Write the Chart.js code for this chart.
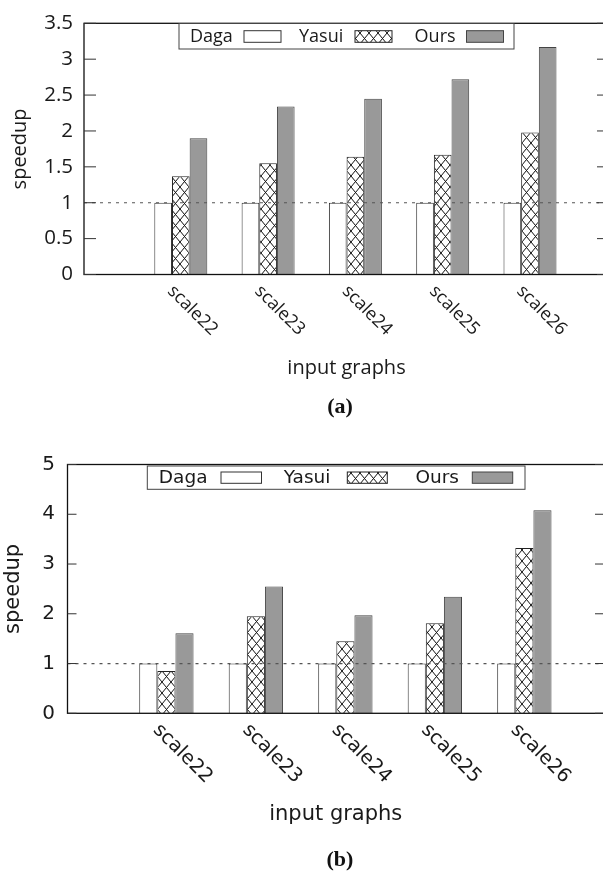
<!DOCTYPE html>
<html>
<head>
<meta charset="utf-8">
<script src="https://cdn.jsdelivr.net/npm/chart.js@4.4.1/dist/chart.umd.min.js"></script>
<style>
  html, body { margin: 0; padding: 0; background: #fff; overflow: hidden; }
  body { width: 603px; height: 874px; position: relative; }
  canvas { position: absolute; left: 0; }
  #chartA { top: 0; }
  #chartB { top: 440px; }
  .cap { position: absolute; left: 300px; width: 80px; text-align: center; line-height: 24px;
         font: bold 22px "Liberation Serif", "Times New Roman", serif; color: #111; }
</style>
</head>
<body>
<canvas id="chartA" width="620" height="440"></canvas>
<canvas id="chartB" width="620" height="434"></canvas>
<div class="cap" style="top:393px">(a)</div>
<div class="cap" style="top:846px">(b)</div>
<script>
// data
const categories = ['scale22', 'scale23', 'scale24', 'scale25', 'scale26'];
const seriesNames = ['Daga', 'Yasui', 'Ours'];
const dagaA  = [1, 1, 1, 1, 1];
const yasuiA = [1.37, 1.55, 1.64, 1.67, 1.98];
const oursA  = [1.90, 2.34, 2.45, 2.72, 3.17];
const dagaB  = [1, 1, 1, 1, 1];
const yasuiB = [0.85, 1.95, 1.45, 1.81, 3.32];
const oursB  = [1.61, 2.55, 1.97, 2.34, 4.08];
const yTicksA = [0, 0.5, 1, 1.5, 2, 2.5, 3, 3.5];
const yTicksB = [0, 1, 2, 3, 4, 5];
const refLine = 1;

const textColor = '#1a1a1a';

// cross hatch like gnuplot's pattern
function hatch() {
  const t = document.createElement('canvas');
  t.width = 9; t.height = 11;
  const c = t.getContext('2d');
  c.fillStyle = '#fff';
  c.fillRect(0, 0, 9, 11);
  c.strokeStyle = '#111';
  c.lineWidth = 1;
  c.beginPath();
  c.moveTo(0, 0); c.lineTo(9, 11);
  c.moveTo(9, 0); c.lineTo(0, 11);
  c.stroke();
  return c.createPattern(t, 'repeat');
}
const hatchFill = hatch();

const fills = ['#ffffff', hatchFill, '#999999'];
const borders = ['#333333', '#222222', '#444444'];

function series(vals) {
  return vals.map((v, i) => ({ x: i, y: v }));
}

function fontStr(f) {
  return f.size + 'px "' + f.family + '"';
}

const gnuplotLook = {
  id: 'gnuplotLook',
  afterDatasetsDraw(chart, args, o) {
    const { ctx, chartArea: a, scales: { y } } = chart;
    ctx.save();
    // dotted line at speedup 1
    const y1 = y.getPixelForValue(refLine);
    ctx.strokeStyle = '#555';
    ctx.lineWidth = 1.2;
    ctx.setLineDash([3, 5]);
    ctx.beginPath();
    ctx.moveTo(a.left, y1);
    ctx.lineTo(a.right, y1);
    ctx.stroke();
    ctx.setLineDash([]);
    // frame
    ctx.strokeStyle = '#111';
    ctx.lineWidth = 1.3;
    ctx.strokeRect(a.left, a.top, a.right - a.left, a.bottom - a.top);
    // inward ticks, mirrored
    ctx.lineWidth = 1;
    ctx.strokeStyle = '#333';
    o.yTicks.forEach(v => {
      const py = y.getPixelForValue(v);
      ctx.beginPath();
      ctx.moveTo(a.left, py); ctx.lineTo(a.left + o.tickLen, py);
      ctx.moveTo(a.right - o.tickLen, py); ctx.lineTo(a.right, py);
      ctx.stroke();
    });
    // legend box
    const lg = o.legend;
    ctx.strokeStyle = '#444';
    ctx.lineWidth = 1;
    ctx.strokeRect(lg.box[0], lg.box[1], lg.box[2] - lg.box[0], lg.box[3] - lg.box[1]);
    ctx.font = fontStr(o.legendFont);
    ctx.textAlign = 'left';
    ctx.textBaseline = 'middle';
    chart.data.datasets.forEach((ds, i) => {
      ctx.fillStyle = textColor;
      ctx.fillText(ds.label, lg.textX[i], lg.textY);
      const [sx0, sx1] = lg.swatch[i];
      ctx.fillStyle = ds.backgroundColor;
      ctx.fillRect(sx0, lg.swY[0], sx1 - sx0, lg.swY[1] - lg.swY[0]);
      ctx.strokeStyle = ds.borderColor;
      ctx.strokeRect(sx0, lg.swY[0], sx1 - sx0, lg.swY[1] - lg.swY[0]);
    });
    ctx.restore();
  },
  afterDraw(chart, args, o) {
    const { ctx, chartArea: a, scales: { x } } = chart;
    ctx.save();
    ctx.font = fontStr(o.labelFont);
    ctx.fillStyle = textColor;
    ctx.textAlign = 'left';
    ctx.textBaseline = 'alphabetic';
    categories.forEach((name, i) => {
      const px = x.getPixelForValue(i);
      ctx.save();
      ctx.translate(px + o.labelDx, a.bottom + o.labelDy);
      ctx.rotate(Math.PI / 4);
      ctx.fillText(name, 0, 0);
      ctx.restore();
    });
    ctx.restore();
  }
};

function makeChart(id, p) {
  const tickFont = { family: p.family, size: p.tickSize };
  const titleFont = { family: p.family, size: p.titleSize };
  return new Chart(document.getElementById(id), {
    type: 'bar',
    data: {
      datasets: p.values.map((vals, i) => ({
        label: seriesNames[i],
        data: series(vals),
        backgroundColor: fills[i],
        borderColor: borders[i],
        borderWidth: 1
      }))
    },
    options: {
      responsive: false,
      animation: false,
      devicePixelRatio: 1,
      layout: { padding: { top: p.padTop, right: p.padRight, left: 0, bottom: 0 } },
      datasets: { bar: { categoryPercentage: 0.607, barPercentage: 1 } },
      plugins: {
        legend: { display: false },
        tooltip: { enabled: false },
        gnuplotLook: {
          yTicks: p.yTicks, tickLen: p.tickLen, legend: p.legend,
          legendFont: { family: p.family, size: p.legendSize },
          labelFont: { family: p.family, size: p.labelSize },
          labelDx: p.labelDx, labelDy: p.labelDy
        }
      },
      scales: {
        x: {
          type: 'linear', offset: false, min: p.xMin, max: p.xMax,
          grid: { display: false, drawTicks: false },
          border: { display: false },
          ticks: { display: false },
          afterBuildTicks(s) { s.ticks = categories.map((c, i) => ({ value: i })); },
          title: { display: true, text: 'input graphs', color: textColor, font: titleFont,
                   padding: { top: 0, bottom: p.xTitlePad } },
          afterFit(s) { s.height = p.xHeight; }
        },
        y: {
          min: 0, max: p.yMax,
          grid: { display: false, drawTicks: false },
          border: { display: false },
          ticks: { stepSize: p.yStep, padding: p.tickPad, color: textColor, font: tickFont,
                   callback: v => String(v) },
          title: { display: true, text: 'speedup', color: textColor, font: titleFont,
                   padding: { top: p.yTitlePad, bottom: 0 } },
          afterFit(s) { s.width = p.yWidth; }
        }
      }
    },
    plugins: [gnuplotLook]
  });
}

makeChart('chartA', {
  values: [dagaA, yasuiA, oursA],
  family: 'Open Sans', tickSize: 20.5, titleSize: 20, legendSize: 18, labelSize: 18,
  yMax: 3.5, yStep: 0.5, yTicks: yTicksA,
  xMin: -1.109, xMax: 4.905,
  padTop: 13.5, padRight: 11, yWidth: 84, xHeight: 165.5,
  xTitlePad: 60, yTitlePad: 8, tickPad: 11, tickLen: 12,
  labelDx: -14, labelDy: 17.5,
  legend: {
    box: [179, 23.5, 514, 49], textY: 37,
    textX: [190, 299, 414.6],
    swatch: [[244, 281], [355, 392], [466.5, 503.5]],
    swY: [30.7, 42.3]
  }
});

makeChart('chartB', {
  values: [dagaB, yasuiB, oursB],
  family: 'DejaVu Sans', tickSize: 20, titleSize: 21, legendSize: 18.5, labelSize: 19.5,
  yMax: 5, yStep: 1, yTicks: yTicksB,
  xMin: -1.105, xMax: 4.89,
  padTop: 17.3, padRight: 16, yWidth: 67.5, xHeight: 160.7,
  xTitlePad: 46.4, yTitlePad: 1, tickPad: 12.5, tickLen: 9,
  labelDx: -14, labelDy: 17.5,
  legend: {
    box: [147.3, 26, 525, 49.3], textY: 38,
    textX: [158.8, 283.8, 415.4],
    swatch: [[221, 261.5], [347.3, 387.3], [472.3, 512.7]],
    swY: [32, 43.3]
  }
});
</script>
</body>
</html>
